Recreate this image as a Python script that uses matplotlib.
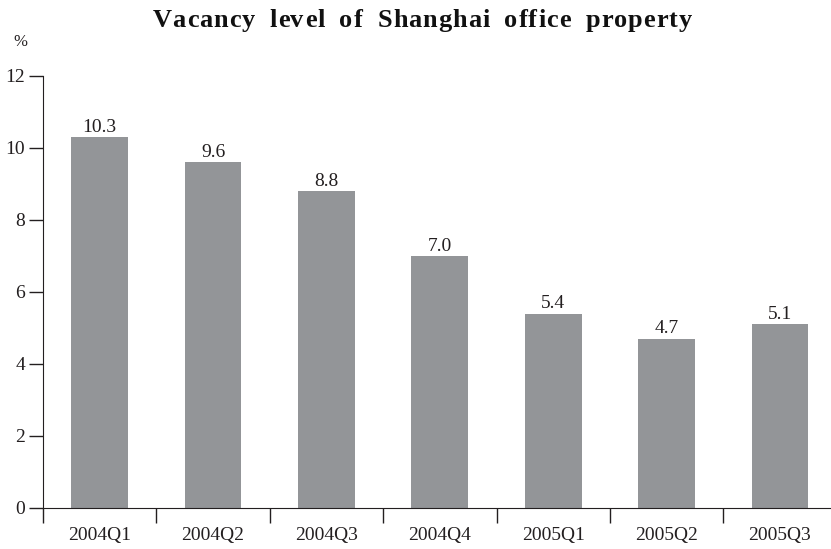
import matplotlib
matplotlib.use("Agg")
from matplotlib import pyplot as plt

quarters = ["2004Q1", "2004Q2", "2004Q3", "2004Q4", "2005Q1", "2005Q2", "2005Q3"]
vacancy = [10.3, 9.6, 8.8, 7.0, 5.4, 4.7, 5.1]
title = "Vacancy level of Shanghai office property"

plt.rcParams["font.family"] = ["Liberation Serif", "DejaVu Serif"]

fig = plt.figure(figsize=(8.31, 5.49), dpi=100)
ax = fig.add_axes([0.0517, 0.0747, 0.9483, 0.787])

x = list(range(len(quarters)))
ax.bar(x, vacancy, width=0.5, color="#939598")
for xi, v in zip(x, vacancy):
    ax.annotate(f"{v:.1f}", (xi, v), xytext=(0, 1), textcoords="offset points",
                ha="center", va="bottom", fontsize=14, color="#231f20")

ax.set_xlim(-0.5, 6.45)
ax.set_ylim(0, 12)
ax.set_yticks(range(0, 13, 2))
ax.set_xticks([i - 0.5 for i in range(len(quarters))])
ax.set_xticklabels([])
ax.set_xticks(x, minor=True)
ax.set_xticklabels(quarters, minor=True)
ax.tick_params(axis="x", which="minor", length=0, pad=14, labelsize=14, labelcolor="#231f20")
ax.tick_params(axis="x", which="major", length=11, width=1, direction="out", color="#231f20")
ax.tick_params(axis="y", length=10, width=1, direction="out", labelsize=14, pad=3,
               color="#231f20", labelcolor="#231f20")

for side in ["top", "right"]:
    ax.spines[side].set_visible(False)
ax.spines["left"].set_color("#231f20")
ax.spines["bottom"].set_color("#231f20")

# title with wide letter spacing, drawn char by char
renderer = fig.canvas.get_renderer()
title_kw = dict(fontsize=19, fontweight="bold", color="#111111", va="baseline", ha="left")
widths = []
for ch in title:
    if ch == " ":
        widths.append(None)
        continue
    t = fig.text(0, 0, ch, **title_kw)
    widths.append(t.get_window_extent(renderer).width)
    t.remove()
space_w = 13
n_gaps = len(title) - 1
natural = sum(w if w is not None else space_w for w in widths)
target = 539
track = (target - natural) / n_gaps
xpos = 422 - target / 2
W, H = fig.get_size_inches() * fig.dpi
for ch, w in zip(title, widths):
    if w is None:
        xpos += space_w + track
        continue
    fig.text(xpos / W, 1 - 27 / H, ch, **title_kw)
    xpos += w + track

fig.text(0.025, 0.923, "%", ha="center", va="center", fontsize=12, color="#231f20")

fig.savefig("out.png", dpi=100)
